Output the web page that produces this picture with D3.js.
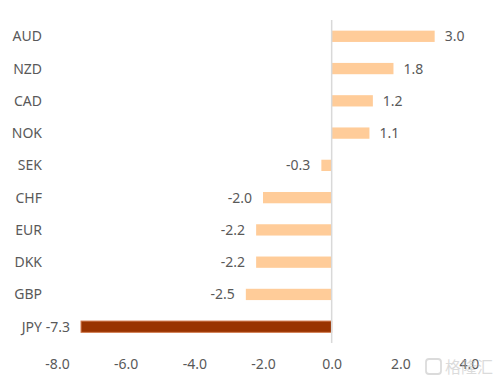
<!DOCTYPE html>
<html>
<head>
<meta charset="utf-8">
<script src="https://cdn.jsdelivr.net/npm/d3@7"></script>
<style>
  body { margin: 0; background: #fff; }
  svg { display: block; font-family: "Noto Sans", sans-serif; }
</style>
</head>
<body>
<svg class="chart"></svg>
<script>
const width = 500,
  height = 386;

const currencies = ["AUD", "NZD", "CAD", "NOK", "SEK", "CHF", "EUR", "DKK", "GBP", "JPY"];
const changes = [3.0, 1.8, 1.2, 1.1, -0.3, -2.0, -2.2, -2.2, -2.5, -7.3];
const xTicks = [-8, -6, -4, -2, 0, 2, 4];

const data = currencies.map((c, i) => ({ name: c, value: changes[i] }));

let chart = d3.select(".chart")
  .attr("width", width)
  .attr("height", height);

let x = d3.scaleLinear()
  .domain([-8, 4])
  .range([57, 469]);

let y = d3.scaleBand()
  .domain(currencies)
  .range([20, 343])
  .paddingInner(0.65)
  .paddingOuter(0.33);

const textColor = "#595959";

// bars
chart.append("g").selectAll("rect")
  .data(data)
  .enter().append("rect")
  .attr("x", d => x(Math.min(0, d.value)))
  .attr("y", d => y(d.name))
  .attr("width", d => Math.abs(x(d.value) - x(0)))
  .attr("height", y.bandwidth())
  .attr("fill", d => d.name === "JPY" ? "#993300" : "#ffcc99")
  .attr("stroke", d => d.name === "JPY" ? "#d27a4e" : "none")
  .attr("stroke-width", 1);

// zero line
chart.append("line")
  .attr("x1", x(0)).attr("x2", x(0))
  .attr("y1", 20).attr("y2", 343)
  .attr("stroke", "#d9d9d9")
  .attr("stroke-width", 1.5);

// category labels
chart.append("g").selectAll("text")
  .data(data)
  .enter().append("text")
  .attr("x", 42)
  .attr("y", d => y(d.name) + y.bandwidth() / 2)
  .attr("dy", "0.36em")
  .attr("text-anchor", "end")
  .attr("font-size", 14)
  .attr("fill", textColor)
  .text(d => d.name);

// value labels
chart.append("g").selectAll("text")
  .data(data)
  .enter().append("text")
  .attr("x", d => d.value >= 0 ? x(d.value) + 10 : x(d.value) - 11)
  .attr("y", d => y(d.name) + y.bandwidth() / 2)
  .attr("dy", "0.36em")
  .attr("text-anchor", d => d.value >= 0 ? "start" : "end")
  .attr("font-size", 14)
  .attr("fill", textColor)
  .text(d => d.value.toFixed(1));

// x axis
let xAxis = d3.axisBottom(x)
  .tickValues(xTicks)
  .tickSize(0)
  .tickPadding(0)
  .tickFormat(d3.format(".1f"));

let axisG = chart.append("g")
  .attr("transform", "translate(0, 359)")
  .call(xAxis);
axisG.select(".domain").remove();
axisG.selectAll("text")
  .attr("font-family", "Noto Sans, sans-serif")
  .attr("font-size", 14)
  .attr("fill", textColor)
  .attr("dy", "0.71em")
  .text(d => d3.format(".1f")(d).replace("−", "-"));

// watermark
let wm = chart.append("g").attr("opacity", 0.55);
wm.append("rect")
  .attr("x", 426).attr("y", 359)
  .attr("width", 15).attr("height", 15)
  .attr("rx", 3)
  .attr("fill", "none")
  .attr("stroke", "#bfbfbf")
  .attr("stroke-width", 1.8);
wm.append("text")
  .attr("x", 445).attr("y", 373)
  .attr("font-family", "Noto Sans CJK SC, sans-serif")
  .attr("font-size", 16)
  .attr("fill", "#bfbfbf")
  .text("格隆汇");
</script>
</body>
</html>
